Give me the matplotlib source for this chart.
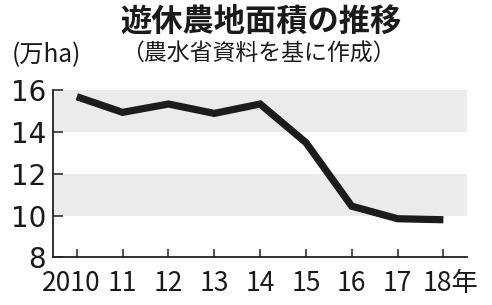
import matplotlib
matplotlib.use("Agg")
import matplotlib.pyplot as plt
import matplotlib.transforms as mtransforms

plt.rcParams['font.family'] = ['Noto Sans CJK JP', 'DejaVu Sans']

years = ["2010", "11", "12", "13", "14", "15", "16", "17", "18年"]
values = [15.7, 14.95, 15.35, 14.9, 15.35, 13.5, 10.45, 9.85, 9.8]
yticks = [8, 10, 12, 14, 16]
bands = [(10, 12), (14, 16)]

title = "遊休農地面積の推移"
subtitle = "（農水省資料を基に作成）"
unit = "(万ha)"

fig = plt.figure(figsize=(4.92, 3.05), dpi=100)
ax = fig.add_axes([0.1077, 0.1564, 0.841, 0.547])

for lo, hi in bands:
    ax.axhspan(lo, hi, color="#ebebeb", lw=0, zorder=0)

x = list(range(len(years)))
ax.plot(x, values, color="#1c1c1c", lw=5.2, solid_joinstyle="miter", solid_capstyle="butt", zorder=3)

ax.set_xlim(-0.52, 8.51)
ax.set_ylim(8, 16)
ax.set_yticks(yticks)
ax.set_yticklabels([str(v) for v in yticks], fontsize=20, family=["Liberation Sans Narrow", "DejaVu Sans"])
ax.set_xticks(x)
ax.set_xticklabels(years, fontsize=19, family=["Liberation Sans Narrow", "Noto Sans CJK JP"])

for s in ["top", "right"]:
    ax.spines[s].set_visible(False)
for s in ["left", "bottom"]:
    ax.spines[s].set_linewidth(1.3)
    ax.spines[s].set_color("#222222")

ax.tick_params(axis="y", direction="in", length=7.5, width=1.1, pad=5, colors="#222222")
ax.tick_params(axis="x", direction="in", length=6, width=1.1, pad=9, colors="#222222")
ax.tick_params(axis="y", labelcolor="#1a1a1a")
ax.tick_params(axis="x", labelcolor="#1a1a1a")

labels = ax.get_xticklabels()
labels[0].set_transform(labels[0].get_transform() + mtransforms.ScaledTranslation(-6/100, 0, fig.dpi_scale_trans))
labels[-1].set_transform(labels[-1].get_transform() + mtransforms.ScaledTranslation(7/100, 0, fig.dpi_scale_trans))

fig.text(261/492, 1 - 22/305, title, ha="center", va="center", fontsize=22.5, fontweight="bold", color="#1a1a1a")
fig.text(258/492, 1 - 54/305, subtitle, ha="center", va="center", fontsize=16.5, color="#1a1a1a")
fig.text(12/492, 1 - 55/305, unit, ha="left", va="center", fontsize=17.5, color="#1a1a1a",
         family=["Liberation Sans Narrow", "Noto Sans CJK JP"])

fig.savefig("out.png", dpi=100)
